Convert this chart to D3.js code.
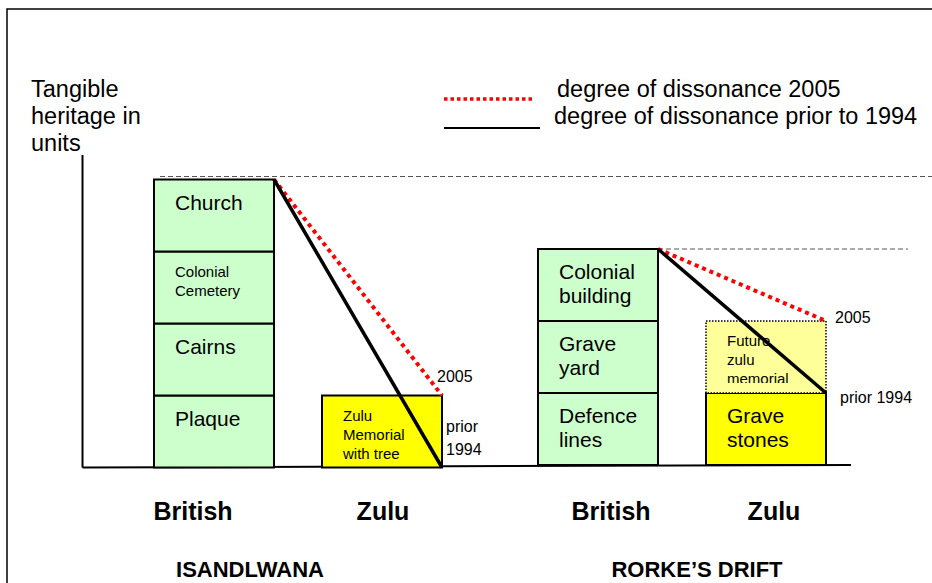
<!DOCTYPE html>
<html>
<head>
<meta charset="utf-8">
<script src="https://cdn.jsdelivr.net/npm/d3@7"></script>
<style>
	body { margin: 0; background: #fff; }
	svg text { font-family: "Liberation Sans", Arial, sans-serif; fill: #000; }
</style>
</head>
<body>
<div id="chart"></div>
<script>
// sites and groups
var sites = ["ISANDLWANA", "RORKE\u2019S DRIFT"];
var groups = ["British", "Zulu"];

// heritage units per site, listed bottom to top
var isandlwanaBritish = ["Plaque", "Cairns", "Colonial\nCemetery", "Church"];
var isandlwanaZulu = ["Zulu\nMemorial\nwith tree"];
var isandlwanaZuluFuture = [];
var rorkeBritish = ["Defence\nlines", "Grave\nyard", "Colonial\nbuilding"];
var rorkeZulu = ["Grave\nstones"];
var rorkeZuluFuture = ["Future\nzulu\nmemorial"];

// degree of dissonance: [British units, Zulu units] per site
var dissonancePrior1994 = [[4, 0], [3, 1]];
var dissonance2005 = [[4, 1], [3, 2]];

var legendLabels = ["degree of dissonance 2005", "degree of dissonance prior to 1994"];
var axisTitle = ["Tangible", "heritage in", "units"];
var endLabels = ["2005", "prior 1994"];

var smallLabels = ["Colonial\nCemetery", "Zulu\nMemorial\nwith tree", "Future\nzulu\nmemorial"];

var width = 932, height = 583;

var svg = d3.select("#chart").append("svg")
	.attr("width", width)
	.attr("height", height);

// frame (runs off the page on right and bottom)
svg.append("rect")
	.attr("x", 7).attr("y", 9)
	.attr("width", 1000).attr("height", 1000)
	.attr("fill", "none")
	.attr("stroke", "#000")
	.attr("stroke-width", 1.5);

// scales
var xSite = d3.scaleBand().domain(sites).range([106, 874]).padding(0);
var xGroup = d3.scaleBand().domain(groups).range([0, xSite.bandwidth()]).padding(2 / 7);
var y = d3.scaleLinear().domain([0, 4]).range([467.5, 179.5]);
var siteShift = [0, -2.5]; // baseline sits a touch higher on the right

var stacks = [
	{British: isandlwanaBritish, Zulu: isandlwanaZulu, future: isandlwanaZuluFuture},
	{British: rorkeBritish, Zulu: rorkeZulu, future: rorkeZuluFuture}
];

// y axis + baseline
svg.append("line")
	.attr("x1", 82.5).attr("x2", 82.5)
	.attr("y1", 155).attr("y2", y(0))
	.attr("stroke", "#000").attr("stroke-width", 2);
svg.append("line")
	.attr("x1", 82.5).attr("x2", xSite(sites[1]) + xGroup("Zulu") + xGroup.bandwidth() + 25)
	.attr("y1", y(0) + siteShift[0]).attr("y2", y(0) + siteShift[1])
	.attr("stroke", "#000").attr("stroke-width", 2);

// axis title
svg.append("text")
	.attr("x", 31).attr("y", 97)
	.attr("font-size", 23.5)
	.selectAll("tspan")
	.data(axisTitle)
	.join("tspan")
	.attr("x", 31)
	.attr("dy", function (d, i) { return i ? 27 : 0; })
	.text(function (d) { return d; });

// legend
var legend = svg.append("g");
legend.append("line")
	.attr("x1", 444).attr("x2", 535).attr("y1", 99).attr("y2", 99)
	.attr("stroke", "#f00").attr("stroke-width", 3.5).attr("stroke-dasharray", "3.5,3");
legend.append("line")
	.attr("x1", 444).attr("x2", 540).attr("y1", 128).attr("y2", 128)
	.attr("stroke", "#000").attr("stroke-width", 2);
legend.selectAll("text")
	.data(legendLabels)
	.join("text")
	.attr("x", function (d, i) { return i ? 554 : 557; })
	.attr("y", function (d, i) { return 97 + i * 27; })
	.attr("font-size", 23.5)
	.text(function (d) { return d; });

function cellLabel(g, label, x, top, clipId) {
	var small = smallLabels.indexOf(label) >= 0;
	var lines = label.split("\n");
	var t = g.append("text")
		.attr("x", x + 21)
		.attr("y", top + (small ? 25 : 30))
		.attr("font-size", small ? 15 : 21);
	if (clipId) t.attr("clip-path", "url(#" + clipId + ")");
	t.selectAll("tspan")
		.data(lines)
		.join("tspan")
		.attr("x", x + 21)
		.attr("dy", function (d, i) { return i ? (small ? 19 : 24) : 0; })
		.text(function (d) { return d; });
}

sites.forEach(function (site, s) {
	var g = svg.append("g").attr("transform", "translate(0," + siteShift[s] + ")");
	var bx = xSite(site) + xGroup("British");
	var zx = xSite(site) + xGroup("Zulu");
	var bw = xGroup.bandwidth();
	var st = stacks[s];
	var britishTop = st.British.length;

	// dashed guide at top of British stack
	g.append("line")
		.attr("x1", s ? bx + bw : bx + 6)
		.attr("x2", s ? bx + bw + 250 : width)
		.attr("y1", y(britishTop) - (s ? 0 : 3)).attr("y2", y(britishTop) - (s ? 0 : 3))
		.attr("stroke", "#555").attr("stroke-width", 1).attr("stroke-dasharray", "5,3");

	// British stack
	st.British.forEach(function (label, i) {
		g.append("rect")
			.attr("x", bx).attr("y", y(i + 1))
			.attr("width", bw).attr("height", y(i) - y(i + 1))
			.attr("fill", "#ccffcc").attr("stroke", "#000").attr("stroke-width", 2);
		cellLabel(g, label, bx, y(i + 1));
	});

	// Zulu stack
	st.Zulu.forEach(function (label, i) {
		g.append("rect")
			.attr("x", zx).attr("y", y(i + 1))
			.attr("width", bw).attr("height", y(i) - y(i + 1))
			.attr("fill", "#ffff00").attr("stroke", "#000").attr("stroke-width", 2);
		cellLabel(g, label, zx, y(i + 1));
	});
	st.future.forEach(function (label, i) {
		var k = st.Zulu.length + i;
		var clipId = "clip" + s + "_" + i;
		g.append("clipPath").attr("id", clipId)
			.append("rect")
			.attr("x", zx).attr("y", y(k + 1))
			.attr("width", bw).attr("height", y(k) - y(k + 1) - 10);
		g.append("rect")
			.attr("x", zx).attr("y", y(k + 1))
			.attr("width", bw).attr("height", y(k) - y(k + 1))
			.attr("fill", "#ffff99").attr("stroke", "#000").attr("stroke-width", 1.5)
			.attr("stroke-dasharray", "1.5,1.5");
		cellLabel(g, label, zx, y(k + 1), clipId);
	});

	// dissonance lines
	var lineGen = d3.line()
		.x(function (d, i) { return i ? zx + bw : bx + bw; })
		.y(function (d) { return y(d); });
	g.append("path")
		.datum(dissonance2005[s])
		.attr("d", lineGen)
		.attr("fill", "none").attr("stroke", "#f00")
		.attr("stroke-width", 4).attr("stroke-dasharray", "4,4");
	g.append("path")
		.datum(dissonancePrior1994[s])
		.attr("d", lineGen)
		.attr("fill", "none").attr("stroke", "#000")
		.attr("stroke-width", 3.5);

	// end labels
	var fs = 16;
	if (s === 0) {
		g.append("text").attr("x", zx + bw - 5).attr("y", y(dissonance2005[s][1]) - 14)
			.attr("font-size", fs).text(endLabels[0]);
		var pr = g.append("text").attr("x", zx + bw + 4).attr("y", y(dissonancePrior1994[s][1]) - 36)
			.attr("font-size", fs);
		pr.selectAll("tspan").data(endLabels[1].split(" ")).join("tspan")
			.attr("x", zx + bw + 4)
			.attr("dy", function (d, i) { return i ? 23 : 0; })
			.text(function (d) { return d; });
	} else {
		g.append("text").attr("x", zx + bw + 9).attr("y", y(dissonance2005[s][1]) + 1.5)
			.attr("font-size", fs).text(endLabels[0]);
		g.append("text").attr("x", zx + bw + 14).attr("y", y(dissonancePrior1994[s][1]) + 9.5)
			.attr("font-size", fs).text(endLabels[1]);
	}

	// group labels
	var groupShift = s ? [13, 8] : [-21, 1];
	groups.forEach(function (grp, j) {
		svg.append("text")
			.attr("x", xSite(site) + xGroup(grp) + bw / 2 + groupShift[j])
			.attr("y", 520)
			.attr("text-anchor", "middle")
			.attr("font-size", 25)
			.attr("font-weight", "bold")
			.text(grp);
	});

	// site label
	svg.append("text")
		.attr("x", xSite(site) + xSite.bandwidth() / 2 + (s ? 15 : -48))
		.attr("y", 577)
		.attr("text-anchor", "middle")
		.attr("font-size", 22)
		.attr("font-weight", "bold")
		.text(site);
});
</script>
</body>
</html>
